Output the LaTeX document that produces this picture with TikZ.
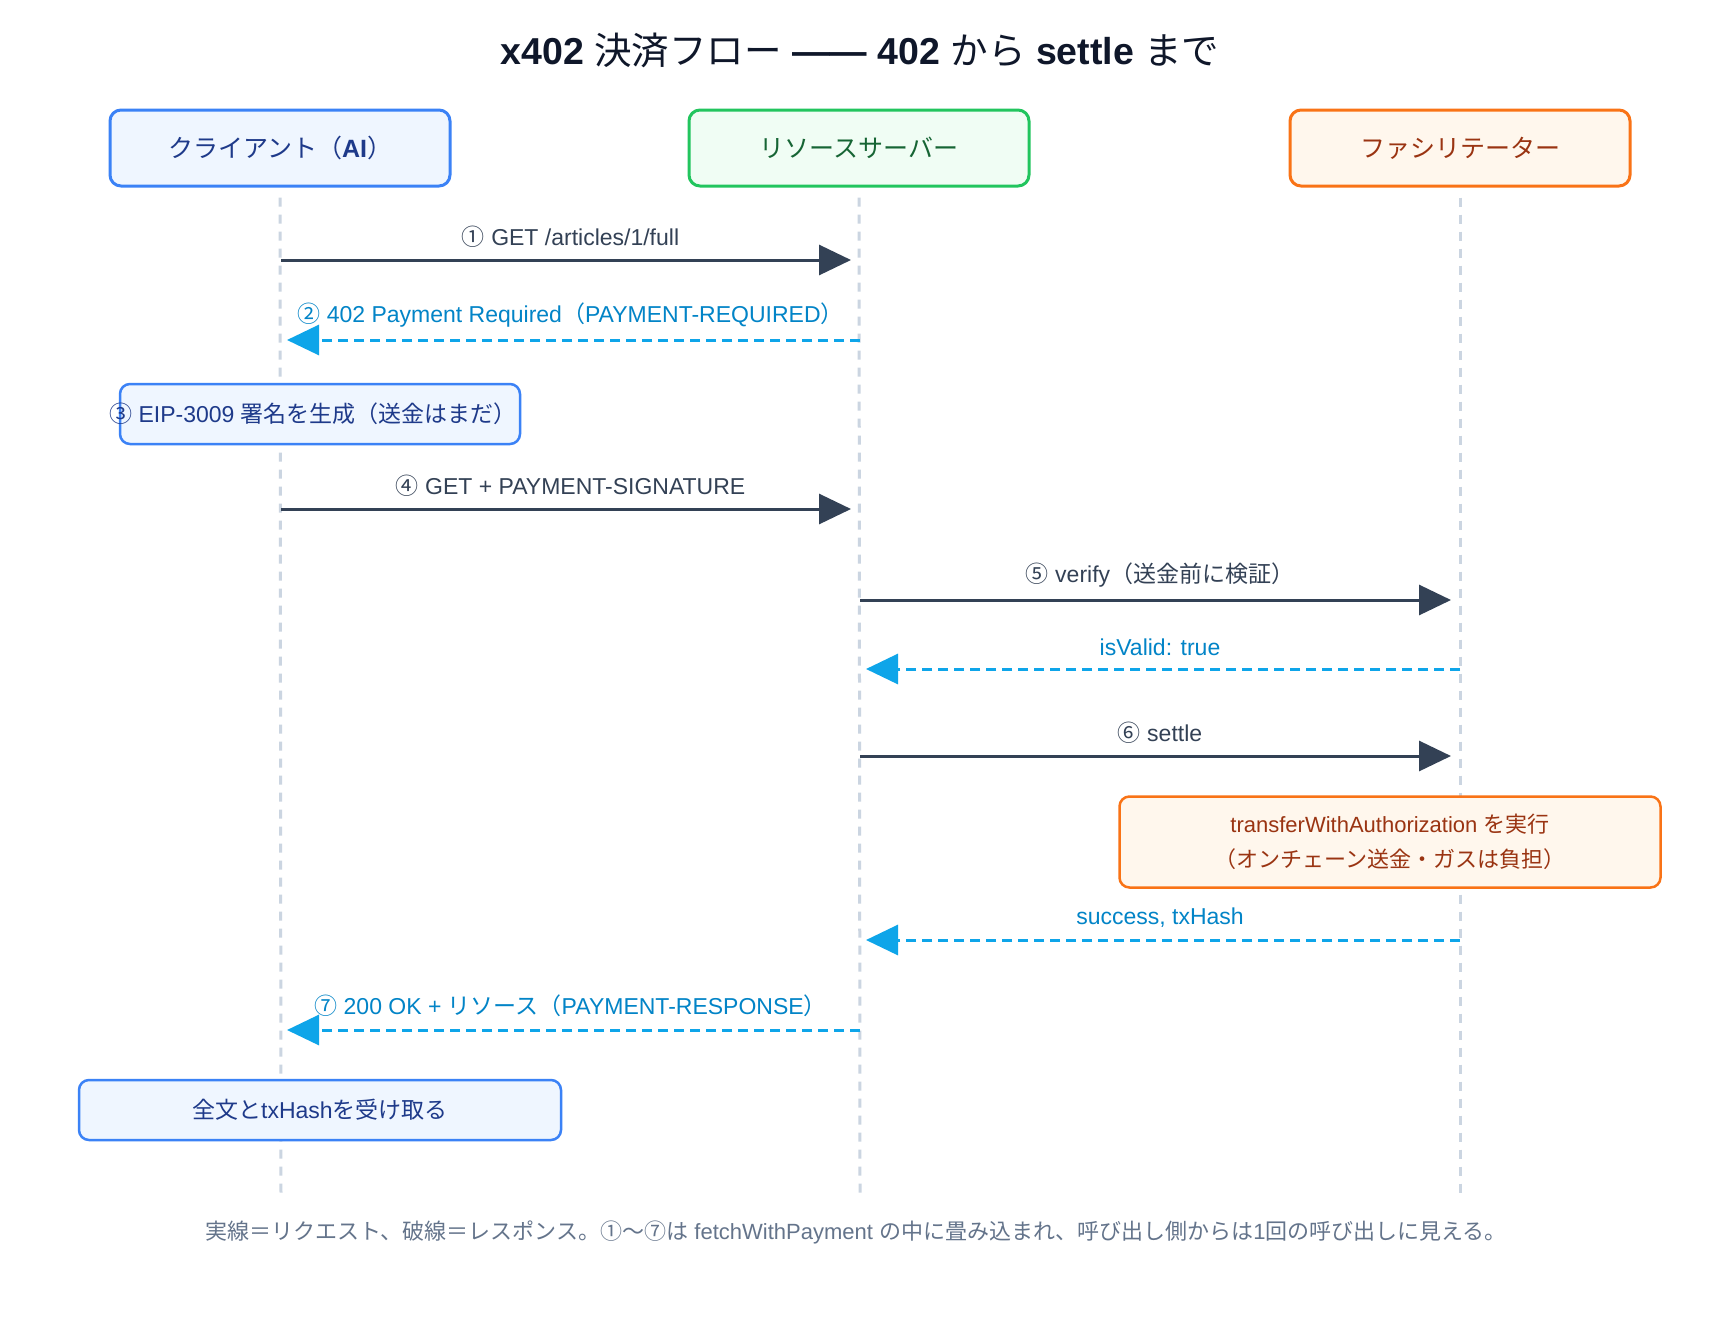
\documentclass[tikz,border=0pt]{standalone}
\usepackage{fontspec}
\setmainfont{Liberation Sans}
\newfontfamily\jpfont{Noto Sans CJK JP}
\newcommand{\jpn}[1]{{\jpfont #1}}
\usetikzlibrary{arrows.meta}

\definecolor{ink}{HTML}{0F172A}
\definecolor{solidc}{HTML}{334155}
\definecolor{dashc}{HTML}{0EA5E9}
\definecolor{dashtext}{HTML}{0284C7}
\definecolor{lifec}{HTML}{CBD5E1}
\definecolor{notec}{HTML}{64748B}
\definecolor{blueline}{HTML}{3B82F6}
\definecolor{bluefill}{HTML}{EFF6FF}
\definecolor{bluetext}{HTML}{1E3A8A}
\definecolor{greenline}{HTML}{22C55E}
\definecolor{greenfill}{HTML}{F0FDF4}
\definecolor{greentext}{HTML}{166534}
\definecolor{orangeline}{HTML}{F97316}
\definecolor{orangefill}{HTML}{FFF7ED}
\definecolor{orangetext}{HTML}{9A3412}

\tikzset{
  actor/.style={draw, line width=3pt, rounded corners=11pt, minimum width=340pt,
    minimum height=76pt, font=\fontsize{25}{30}\selectfont},
  lifeline/.style={lifec, line width=3pt, dash pattern=on 9pt off 8pt, shorten <=10pt},
  request/.style={solidc, line width=3pt, shorten >=9pt,
    -{Triangle[length=32pt,width=30pt]}},
  response/.style={dashc, line width=3pt, dash pattern=on 10pt off 6pt, shorten >=6pt,
    -{Triangle[length=32pt,width=30pt]}},
  msg/.style={midway, above=8pt, font=\fontsize{23}{27}\selectfont},
  notebox/.style={draw, line width=2.5pt, rounded corners=10pt, align=center},
}

\begin{document}
\begin{tikzpicture}[x=1pt, y=-1pt]
\useasboundingbox (0,0) rectangle (1720,1320);
\fill[white] (0,0) rectangle (1720,1320);

% title
\node[ink, font=\fontsize{37.5}{44}\selectfont] (title) at (860,50)
  {\textbf{x402} \jpn{決済フロー} \textbf{—— 402} \jpn{から} \textbf{settle} \jpn{まで}};

% actors
\node[actor, blueline, fill=bluefill, text=bluetext] (client) at (280,148)
  {\jpn{クライアント（}\textbf{AI}\jpn{）}};
\node[actor, greenline, fill=greenfill, text=greentext] (server) at (859,148)
  {\jpn{リソースサーバー}};
\node[actor, orangeline, fill=orangefill, text=orangetext] (facil) at (1460,148)
  {\jpn{ファシリテーター}};

% message rows on each lifeline
\foreach \n/\y in {1/260,2/340,4/509,5/600,6/669,7/756,8/940,9/1030,end/1196} {
  \coordinate (c\n) at (281,\y);
  \coordinate (r\n) at (860,\y);
  \coordinate (f\n) at (1460,\y);
}

% lifelines
\draw[lifeline] (client.south) -- (cend);
\draw[lifeline] (server.south) -- (rend);
\draw[lifeline] (facil.south) -- (fend);

% messages
\draw[request] (c1) -- (r1) node[msg, solidc] {\jpn{①} GET /articles/1/full};
\draw[response] (r2) -- (c2) node[msg, dashtext]
  {\jpn{②} 402 Payment Required\jpn{（}PAYMENT-REQUIRED\jpn{）}};

\node[notebox, blueline, fill=bluefill, minimum width=400pt, minimum height=60pt] (sign) at (320,414) {};
\node[bluetext, font=\fontsize{23}{27}\selectfont] (signtext) at (313,414)
  {\jpn{③} EIP-3009 \jpn{署名を生成（送金はまだ）}};

\draw[request] (c4) -- (r4) node[msg, solidc] {\jpn{④} GET + PAYMENT-SIGNATURE};
\draw[request] (r5) -- (f5) node[msg, solidc] {\jpn{⑤} verify\jpn{（送金前に検証）}};
\draw[response] (f6) -- (r6) node[msg, dashtext] {isValid: true};
\draw[request] (r7) -- (f7) node[msg, solidc] {\jpn{⑥} settle};

\node[notebox, orangeline, fill=orangefill, text=orangetext, minimum width=541pt,
  minimum height=91pt, font=\fontsize{22}{35}\selectfont] (transfer) at (1390,842)
  {transferWithAuthorization \jpn{を実行}\\\jpn{（オンチェーン送金・ガスは負担）}};

\draw[response] (f8) -- (r8) node[msg, dashtext] {success, txHash};
\draw[response] (r9) -- (c9) node[msg, dashtext]
  {\jpn{⑦} 200 OK + \jpn{リソース（}PAYMENT-RESPONSE\jpn{）}};

\node[notebox, blueline, fill=bluefill, text=bluetext, minimum width=482pt,
  minimum height=60pt, font=\fontsize{23}{27}\selectfont] (done) at (320,1110)
  {\jpn{全文と}txHash\jpn{を受け取る}};

% footer
\node[notec, font=\fontsize{22}{26}\selectfont] (footer) at (856,1232)
  {\jpn{実線＝リクエスト、破線＝レスポンス。①〜⑦は} fetchWithPayment
   \jpn{の中に畳み込まれ、呼び出し側からは}1\jpn{回の呼び出しに見える。}};
\end{tikzpicture}
\end{document}
